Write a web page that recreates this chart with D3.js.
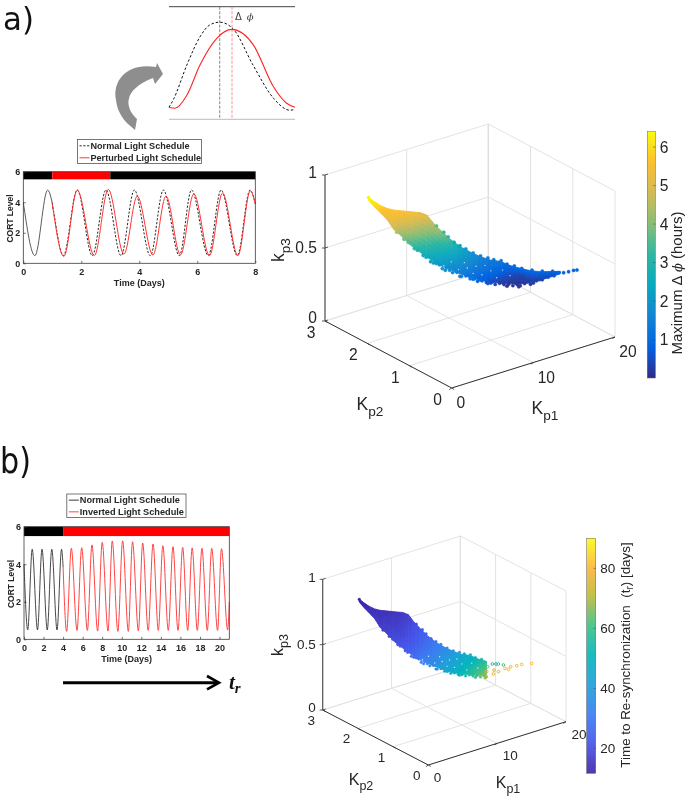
<!DOCTYPE html>
<html><head><meta charset="utf-8">
<style>html,body{margin:0;padding:0;background:#fff}svg{display:block;filter:blur(0.3px)}text{font-family:"Liberation Sans",Arial,sans-serif}</style>
<script src="https://cdn.jsdelivr.net/npm/d3@7/dist/d3.min.js"></script>
</head><body><svg id="c" width="685" height="798"></svg>
<script>
// ---- time series (extrema of each cycle) ----
const aNormalDays=[0,.4,.84,1.38,1.86,2.38,2.85,3.37,3.83,4.38,4.83,5.38,5.8,6.38,6.82,7.38,7.82,8];
const aNormalCort=[4,.5,4.8,.5,4.8,.5,4.8,.5,4.8,.5,4.8,.5,4.8,.5,4.8,.5,4.8,3.9];
const aPerturbedDays=[1,1.4,1.86,2.45,2.93,3.47,3.93,4.47,4.92,5.42,5.88,6.42,6.87,7.4,7.83,8];
const aPerturbedCort=[3.9,.45,4.8,.5,4.85,.6,4.4,.55,4.4,.55,4.55,.5,4.6,.5,4.75,3.9];
const bNormalDays=[0,.38,.84,1.38,1.84,2.38,2.84,3.38,3.84,4];
const bNormalCort=[4,.5,4.8,.5,4.8,.5,4.8,.5,4.8,3.85];
const bInvertedDays=[4,4.36,4.84,5.42,5.9,6.48,6.95,7.53,8,8.59,9.03,9.6,10.09,10.67,11.1,11.7,12.14,12.7,13.2,13.74,14.2,14.76,15.24,15.75,16.23,16.74,17.2,17.73,18.2,18.75,19.2,19.8,20.2,20.83,21];
const bInvertedCort=[3.85,.42,4.85,.47,4.88,.47,5.03,.44,5.17,.44,5.24,.42,5.25,.42,5.2,.45,5.13,.47,5.08,.47,4.99,.47,4.94,.47,4.9,.47,4.87,.47,4.85,.47,4.85,.47,4.83,.5,2];
const insetNormalHours=[0,.8,3.4,5.9,7.8,9.66,12.2,16,19.9,23,24], insetNormalCort=[.6,.96,2.7,4.1,4.7,4.83,4.5,2.7,1.05,.45,.5];
const insetPerturbedHours=[0,1.1,3.4,5.9,9.1,12,16.06,19.9,22.4,24], insetPerturbedCort=[.6,.55,1.2,2.7,4.03,4.47,3.7,1.62,.8,.6];
const aBarStart=[0,1,3], aBarEnd=[1,3,8], aBarColor=["#000","#f00","#000"];
const bBarStart=[0,4], bBarEnd=[4,21], bBarColor=["#000","#f00"];
const aDayTicks=[0,2,4,6,8], bDayTicks=[0,2,4,6,8,10,12,14,16,18,20], cortTicks=[0,2,4,6];
// ---- parameter cloud: hand-read cross-sections (kp1 station; kp3 top/middle/bottom) ----
const cloudKp1=[3.78,4.12,4.58,5.03,5.49,5.94,6.62,7.3,7.75,8.21,8.66,9.34,10.02,10.7,11.38,12.06,12.74,13.42,14.1,14.78,15.46,16.14,16.82];
const cloudKp3Top=[.827,.804,.777,.759,.751,.749,.746,.744,.73,.676,.633,.574,.528,.495,.468,.449,.444,.419,.405,.393,.39,.395,.401];
const cloudKp3Mid=[.818,.787,.752,.722,.685,.666,.632,.605,.582,.542,.508,.467,.431,.404,.384,.369,.367,.353,.348,.35,.36,.376,.392];
const cloudKp3Bot=[.808,.769,.727,.684,.618,.582,.518,.472,.442,.415,.39,.367,.342,.321,.307,.297,.297,.294,.298,.31,.332,.358,.384];
const aValueTop=[6.35,6.2,6,5.7,5.7,5.7,5.55,5.4,5.2,4.7,4.2,3.5,2.5,2,1.6,1.3,1.2,.95,1,1,.9,.9,.9];
const aValueMid=[6.3,6.1,5.8,5.5,5.3,5.05,4.6,4.1,3.8,3.3,2.9,2.4,2,1.6,1.25,1,.8,.5,.3,.5,.6,.7,.85];
const aValueBot=[6.2,6,5.6,5.2,4.8,4.2,3.4,2.8,2.5,2.2,2,1.7,1.4,1.1,.8,.5,.3,.15,.15,.2,.35,.5,.8];
const bValueTop=[12,13,14,14,14,14,15,16,17,20,22,26,30,34,38,44,48,52,58];
const bValueMid=[12,13,14,15,15,16,17,18,20,22,25,29,33,38,43,48,52,57,62];
const bValueBot=[12,14,15,16,17,18,20,22,24,27,30,34,38,43,47,52,56,62,68];
const dotKp1=[3.78,5.7,6.2,6.9,7.5,8,8.4,8.8,9.1,9.5,9.8,10.1,10.4,10.7,10.9,11.2,11.5,11.8,12.1,12.4,12.7,13,13.3,13.6,13.9,14.1,14.4,14.8,15.2,15.6,16,16.4,
 6.5,7.1,7.7,8.2,8.6,9,9.3,9.7,10,10.6,11,11.4,11.9,12.2,12.9,13.2,13.8,14,14.6,15,15.4,15.8,16.2,
 8.4,8.9,9.2,9.6,10,10.4,10.9,11.4,11.9,12.3,12.8,13.2,13.7,14.2,14.9,15.6,16.3,17.05,17.39,17.73,17.96];
const dotKp3=[.826,.6,.555,.495,.452,.412,.402,.37,.378,.347,.35,.325,.33,.312,.31,.298,.303,.294,.292,.284,.293,.287,.29,.283,.292,.286,.302,.3,.326,.336,.356,.368,
 .535,.485,.44,.405,.395,.36,.362,.36,.325,.332,.315,.31,.287,.3,.3,.277,.3,.278,.315,.31,.335,.355,.37,
 .66,.62,.59,.555,.535,.515,.49,.472,.462,.452,.448,.428,.418,.405,.397,.395,.398,.393,.402,.413,.417];
const dotValueA=[6.4,4.5,3.8,3.1,2.5,2.2,2.1,1.9,1.8,1.6,1.5,1.4,1.3,1.1,1.1,.9,.8,.7,.5,.4,.3,.2,.15,.15,.15,.15,.2,.2,.3,.4,.5,.7,
 3.5,2.9,2.5,2.2,2,1.8,1.7,1.6,1.4,1.2,1.1,.9,.6,.5,.3,.15,.2,.15,.25,.3,.4,.5,.6,
 3.6,3.3,3,2.5,2.2,2,1.8,1.5,1.3,1.2,1.2,1,1,1,1,.9,.9,.9,.9,.9,.9];
const dotValueB=[11,17,19,21,23,26,28,31,32,35,36,38,40,43,44,46,48,50,52,54,56,58,60,63,66,68,null,null,null,null,null,null,
 20,22,24,27,30,32,33,36,38,42,45,47,51,53,57,60,65,67,null,null,null,null,null,
 21,23,25,27,30,32,35,38,42,45,48,50,54,null,null,null,null,null,null,null,null];
const holeKp1=[8.9,9.4,9.9,10.3,10.5,10.9,11.1,11.5,11.7,12.1,12.5,12.9,13.4];
const holeKp3=[.39,.42,.37,.42,.385,.35,.4,.345,.41,.375,.33,.385,.35];
const openKp1=[14.57,14.87,15.06,15.47,14.19,14.11,14.65,15.06,14.71,15.6,15.87,16.06,16.55,16.95,17.76];
const openKp3=[.387,.388,.389,.384,.364,.326,.311,.331,.341,.359,.352,.374,.384,.396,.408];
const openValue=[58,56,60,62,64,72,78,76,74,80,79,76,78,79,80];
const ridgeKp1=[3.78,18], ridgeKp2=[2.7,.5];
// ---- axis ticks and colours ----
const kp1Ticks=[0,10,20], kp2Ticks=[0,1,2,3], kp3Ticks=[0,.5,1];
const aBarTicks=[1,2,3,4,5,6], bBarTicks=[20,40,60,80];
const colorStops=[0,.125,.25,.375,.5,.625,.75,.875,1];
const aColors=["#352a87","#0363e1","#1485d4","#09a9c0","#2eb7a4","#87bf77","#d1bb59","#fdbf30","#f9fb0e"];
const bColors=["#3e26a8","#4552e8","#3a7df2","#1f9fd8","#05b5bc","#3bc08a","#b8bb3a","#fdb53a","#f9fb15"];

const svg=d3.select("#c");
const defs=svg.append("defs");
defs.append("filter").attr("id","soft").attr("x","-5%").attr("y","-5%").attr("width","110%").attr("height","110%").append("feGaussianBlur").attr("stdDeviation",.5);
defs.append("filter").attr("id","shade").attr("x","-20%").attr("y","-20%").attr("width","140%").attr("height","140%").append("feGaussianBlur").attr("stdDeviation",.7);
const line=(xs,ys,x,y,cv)=>d3.line().x(d=>x(xs[d])).y(d=>y(ys[d])).curve(cv||d3.curveMonotoneX)(d3.range(xs.length));
const ink="#262626";

svg.append("text").attr("transform","translate(3,30) scale(.95,1)").attr("font-size",32.5).style("font-family","DejaVu Sans").attr("fill","#111").text("a)");
svg.append("text").attr("transform","translate(0,473) scale(.84,1)").attr("font-size",36).style("font-family","DejaVu Sans").attr("fill","#111").text("b)");

function timePlot(c){
  const x=d3.scaleLinear().domain([0,c.maxDay]).range([c.l,c.r]);
  const y=d3.scaleLinear().domain([0,6]).range([c.b,c.t]);
  const g=svg.append("g");
  c.barStart.forEach((s,i)=>g.append("rect").attr("x",x(s)).attr("width",x(c.barEnd[i])-x(s)).attr("y",y(6)).attr("height",y(5.5)-y(6)).attr("fill",c.barColor[i]));
  c.draw(g,x,y);
  g.append("rect").attr("x",c.l).attr("y",c.t).attr("width",c.r-c.l).attr("height",c.b-c.t).attr("fill","none").attr("stroke","#3a3a3a").attr("stroke-width",.8);
  const ax=g.append("g").attr("transform",`translate(0,${c.b})`).call(d3.axisBottom(x).tickValues(c.dayTicks).tickFormat(d3.format("d")).tickSize(-2.5).tickPadding(5));
  const ay=g.append("g").attr("transform",`translate(${c.l},0)`).call(d3.axisLeft(y).tickValues(cortTicks).tickFormat(d3.format("d")).tickSize(-2.5).tickPadding(3));
  [ax,ay].forEach(a=>{a.select(".domain").remove();a.selectAll("line").attr("stroke","#3a3a3a").attr("stroke-width",.7);a.selectAll("text").attr("fill",ink).attr("font-size",9).attr("font-weight","bold").style("font-family","Liberation Sans");});
  g.append("text").attr("x",(c.l+c.r)/2).attr("y",c.b+23).attr("text-anchor","middle").attr("font-size",9).attr("font-weight","bold").attr("fill",ink).text("Time (Days)");
  g.append("text").attr("transform",`translate(${c.l-10.5},${(c.t+c.b)/2+1}) rotate(-90)`).attr("text-anchor","middle").attr("font-size",8.5).attr("font-weight","bold").attr("fill",ink).text("CORT Level");
  const lg=c.legend;
  g.append("rect").attr("x",lg.x).attr("y",lg.y).attr("width",lg.w).attr("height",lg.h).attr("fill","#fff").attr("stroke","#555").attr("stroke-width",.8);
  lg.items.forEach((it,i)=>{
    const yy=lg.y+lg.h*(i+.5)/2+.3;
    g.append("line").attr("x1",lg.x+2).attr("x2",lg.x+12).attr("y1",yy).attr("y2",yy).attr("stroke",it.c).attr("stroke-width",.9).attr("stroke-dasharray",it.d||null);
    g.append("text").attr("x",lg.x+13).attr("y",yy+3.3).attr("font-size",lg.fs).attr("font-weight","bold").attr("fill",ink).text(it.t);
  });
}
defs.append("clipPath").attr("id","firstDay").append("rect").attr("x",23).attr("y",170).attr("width",30).attr("height",100);
defs.append("clipPath").attr("id","afterDay").append("rect").attr("x",52).attr("y",170).attr("width",205).attr("height",100);
timePlot({l:23.3,r:255.3,t:171.7,b:263.3,maxDay:8,dayTicks:aDayTicks,barStart:aBarStart,barEnd:aBarEnd,barColor:aBarColor,
 legend:{x:77.5,y:139.5,w:124,h:24,fs:9.1,items:[{c:"#111",d:"2.2 1.6",t:"Normal Light Schedule"},{c:"#f22",t:"Perturbed Light Schedule"}]},
 draw(g,x,y){
  const d=line(aNormalDays,aNormalCort,x,y);
  g.append("path").attr("d",d).attr("fill","none").attr("stroke","#333").attr("stroke-width",.8).attr("clip-path","url(#firstDay)");
  g.append("path").attr("d",d).attr("fill","none").attr("stroke","#111").attr("stroke-width",.9).attr("stroke-dasharray","2.2 1.6").attr("clip-path","url(#afterDay)");
  g.append("path").attr("d",line(aPerturbedDays,aPerturbedCort,x,y)).attr("fill","none").attr("stroke","#f33").attr("stroke-width",1);
 }});
timePlot({l:24,r:229.3,t:526.7,b:639.3,maxDay:21,dayTicks:bDayTicks,barStart:bBarStart,barEnd:bBarEnd,barColor:bBarColor,
 legend:{x:66.8,y:494,w:119.2,h:23.4,fs:9.2,items:[{c:"#222",t:"Normal Light Schedule"},{c:"#f33",t:"Inverted Light Schedule"}]},
 draw(g,x,y){
  g.append("path").attr("d",line(bNormalDays,bNormalCort,x,y)).attr("fill","none").attr("stroke","#333").attr("stroke-width",.9);
  g.append("path").attr("d",line(bInvertedDays,bInvertedCort,x,y)).attr("fill","none").attr("stroke","#f44").attr("stroke-width",1);
 }});

// inset of panel a
(function(){
  const x=d3.scaleLinear().domain([0,24]).range([169,295]);
  const y=d3.scaleLinear().domain([0,5.6]).range([119.3,6.7]);
  const g=svg.append("g");
  g.append("line").attr("x1",x(0)).attr("x2",x(24)).attr("y1",y(5.6)).attr("y2",y(5.6)).attr("stroke","#444").attr("stroke-width",1);
  g.append("line").attr("x1",x(0)).attr("x2",x(24)).attr("y1",y(0)).attr("y2",y(0)).attr("stroke","#bbb").attr("stroke-width",1);
  g.append("line").attr("x1",x(9.66)).attr("x2",x(9.66)).attr("y1",y(5.6)).attr("y2",y(0)).attr("stroke","#666").attr("stroke-width",.8).attr("stroke-dasharray","3 1.5");
  g.append("line").attr("x1",x(12)).attr("x2",x(12)).attr("y1",y(5.6)).attr("y2",y(0)).attr("stroke","#f77").attr("stroke-width",.8).attr("stroke-dasharray","3 1.5");
  g.append("path").attr("d",line(insetNormalHours,insetNormalCort,x,y)).attr("fill","none").attr("stroke","#111").attr("stroke-width",1).attr("stroke-dasharray","2.5 2");
  g.append("path").attr("d",line(insetPerturbedHours,insetPerturbedCort,x,y)).attr("fill","none").attr("stroke","#f22").attr("stroke-width",1.1);
  const t=g.append("text").attr("x",235).attr("y",20).attr("font-size",10).attr("fill","#444");
  t.append("tspan").style("font-family","DejaVu Sans").text("\u0394");
  t.append("tspan").attr("dx",5).attr("font-style","italic").style("font-family","DejaVu Serif").text("\u03d5");
  // curved grey arrow
  g.append("path").attr("d","M137,119 C125,108 122,90 153,78 L155,84 L163,74 L157,63 L156,67 C128,62 112,80 116,100 C117,110 122,118 128,124 L135,130 Z").attr("fill","#8e8e8e").attr("filter","url(#shade)");
})();

function box3d(c){
  const ridge=d3.scaleLinear().domain(ridgeKp1).range(ridgeKp2);
  const k1x=d3.scaleLinear().domain([0,20]).range([0,c.k1[0]]), k1y=d3.scaleLinear().domain([0,20]).range([0,c.k1[1]]);
  const k2x=d3.scaleLinear().domain([0,3]).range([0,c.k2[0]]), k2y=d3.scaleLinear().domain([0,3]).range([0,c.k2[1]]);
  const k3y=d3.scaleLinear().domain([0,1]).range([0,-c.h]);
  const P=(a,b,h)=>[c.o[0]+k1x(a)+k2x(b),c.o[1]+k1y(a)+k2y(b)+k3y(h)];
  const g=svg.append("g");
  const seg=(p,q,col,w)=>g.append("line").attr("x1",p[0]).attr("y1",p[1]).attr("x2",q[0]).attr("y2",q[1]).attr("stroke",col).attr("stroke-width",w);
  const grid="#e3e3e3";
  kp1Ticks.forEach(a=>{seg(P(a,0,0),P(a,3,0),grid,1);seg(P(a,3,0),P(a,3,1),a===20?"#c4c4c4":grid,1);});
  kp2Ticks.forEach(b=>{seg(P(0,b,0),P(20,b,0),grid,1);seg(P(20,b,0),P(20,b,1),grid,1);});
  kp3Ticks.forEach(h=>{seg(P(0,3,h),P(20,3,h),grid,1);seg(P(20,3,h),P(20,0,h),grid,1);});
  seg(P(0,0,0),P(20,0,0),"#333",1);seg(P(0,0,0),P(0,3,0),"#333",1);seg(P(0,3,0),P(0,3,1),"#555",1.2);
  kp1Ticks.forEach(a=>{const p=P(a,0,0);seg(p,[p[0]-2.5,p[1]+1.7],"#333",.8);});
  kp2Ticks.forEach(b=>{const p=P(0,b,0);seg(p,[p[0]+2.5,p[1]+1.5],"#333",.8);});
  kp3Ticks.forEach(h=>{const p=P(0,3,h);seg(p,[p[0]-3,p[1]],"#333",.8);seg(p,[p[0]+3,p[1]-1],"#333",.8);});
  const col=d3.scaleLinear().domain(colorStops.map(s=>c.dom[0]+s*(c.dom[1]-c.dom[0]))).range(c.colors).interpolate(d3.interpolateRgb);
  // solid body of the cloud: each read cross-section cell is shaded smoothly
  const body=g.append("g").attr("filter","url(#soft)");
  const rowsK=[cloudKp3Top,cloudKp3Mid,cloudKp3Bot], rowsV=c.values, N=4;
  const mix=(a,b,t)=>a+(b-a)*t;
  for(let r=0;r<2;r++) for(let i=0;i<rowsV[0].length-1;i++){
    const A=P(cloudKp1[i],ridge(cloudKp1[i]),rowsK[r][i]),B=P(cloudKp1[i+1],ridge(cloudKp1[i+1]),rowsK[r][i+1]);
    const C=P(cloudKp1[i+1],ridge(cloudKp1[i+1]),rowsK[r+1][i+1]),D=P(cloudKp1[i],ridge(cloudKp1[i]),rowsK[r+1][i]);
    const at=(u,v)=>[mix(mix(A[0],B[0],u),mix(D[0],C[0],u),v),mix(mix(A[1],B[1],u),mix(D[1],C[1],u),v)];
    const valAt=(u,v)=>mix(mix(rowsV[r][i],rowsV[r][i+1],u),mix(rowsV[r+1][i],rowsV[r+1][i+1],u),v);
    for(let a=0;a<N;a++) for(let e=0;e<N;e++){
      const u0=a/N,u1=(a+1)/N,v0=e/N,v1=(e+1)/N, f=col(valAt((u0+u1)/2,(v0+v1)/2));
      body.append("polygon").attr("points",[at(u0,v0),at(u1,v0),at(u1,v1),at(u0,v1)].map(p=>p.join(",")).join(" ")).attr("fill",f).attr("stroke",f).attr("stroke-width",.8);
    }
  }
  // loose points and the gaps between them
  holeKp1.forEach((k,i)=>{if(k<c.holeMax){const p=P(k,ridge(k),holeKp3[i]);g.append("circle").attr("cx",p[0]).attr("cy",p[1]).attr("r",.7).attr("fill","#fff").attr("opacity",.8);}});
  c.dots().forEach(d=>{const p=P(d.k,ridge(d.k),d.h);
    g.append("circle").attr("cx",p[0]).attr("cy",p[1]).attr("r",c.r).attr("fill",d.open?"none":col(d.v)).attr("stroke",col(d.v)).attr("stroke-width",d.open?1:.3);});
  // tick labels
  const lab=(p,t,fs,anchor)=>g.append("text").attr("x",p[0]).attr("y",p[1]).attr("font-size",fs).attr("fill",ink).attr("text-anchor",anchor||"middle").text(t);
  kp3Ticks.forEach(h=>{const p=P(0,3,h);lab([p[0]-c.off3,p[1]+c.fs*.35+(h===0?-3:(h===1?-2:0))],String(h),c.fs,"end");});
  kp2Ticks.forEach(b=>{const p=P(0,b,0);lab([p[0]+c.off2[0],p[1]+c.off2[1]],String(b),c.fs);});
  kp1Ticks.forEach(a=>{const p=P(a,0,0);lab([p[0]+(a===0?c.off1[0]*.7:c.off1[0]),p[1]+c.off1[1]],String(a),c.fs);});
  const sub=(x,y,main,s,rot)=>{const t=g.append("text").attr("font-size",c.lfs).attr("fill",ink).attr("text-anchor","middle").attr("transform",`translate(${x},${y})${rot?" rotate(-90)":""}`);t.append("tspan").text(main);t.append("tspan").attr("dy",c.lfs*.33).attr("font-size",c.lfs*.78).text(s);};
  sub(...c.lab2,"K","p2");sub(...c.lab1,"K","p1");sub(...c.lab3,"k","p3",true);
  // colour bar
  const b=c.bar, y=d3.scaleLinear().domain(c.dom).range([b.b,b.t]);
  d3.range(b.t,b.b,1).forEach(yy=>g.append("rect").attr("x",b.x).attr("width",b.w).attr("y",yy).attr("height",Math.min(1.4,b.b-yy)).attr("fill",col(y.invert(yy+.5))));
  g.append("rect").attr("x",b.x).attr("y",b.t).attr("width",b.w).attr("height",b.b-b.t).attr("fill","none").attr("stroke","#666").attr("stroke-width",.5);
  c.barTicks.forEach(t=>{g.append("line").attr("x1",b.x+b.w-2).attr("x2",b.x+b.w).attr("y1",y(t)).attr("y2",y(t)).attr("stroke","#444").attr("stroke-width",.6);
    lab([b.x+b.w+4.5,y(t)+c.fs*.36],String(t),c.fs,"start");});
  c.barLabel(g);
}
box3d({o:[451.7,388],k1:[163.3,-51],k2:[-126.7,-67],h:146,r:1.7,fs:15.6,lfs:17.5,off3:8,off2:[-14,17],off1:[13,20],lab2:[370,410],lab1:[545,414],lab3:[284,250],holeMax:99,
 dom:[0,6.4],colors:aColors,values:[aValueTop,aValueMid,aValueBot],
 dots:()=>dotKp1.map((k,i)=>({k,h:dotKp3[i],v:dotValueA[i]})),
 bar:{x:647.3,w:8,t:131.7,b:378},barTicks:aBarTicks,
 barLabel(g){const t=g.append("text").attr("transform","translate(682,283) rotate(-90)").attr("text-anchor","middle").attr("font-size",15).attr("fill",ink);
   t.append("tspan").text("Maximum \u0394 ");t.append("tspan").attr("font-style","italic").style("font-family","DejaVu Serif").attr("font-size",13).text("\u03d5");t.append("tspan").text(" (hours)");}});
box3d({o:[428.3,765],k1:[137.7,-43.3],k2:[-105.6,-55],h:130.7,r:1.35,fs:13.5,lfs:16,off3:7,off2:[-11.5,15],off1:[13,17],lab2:[361,785],lab1:[508,788],lab3:[283,645],holeMax:14,
 dom:[11.7,90],colors:bColors,values:[bValueTop,bValueMid,bValueBot],
 dots:()=>dotKp1.map((k,i)=>({k,h:dotKp3[i],v:dotValueB[i]})).filter(d=>d.v!==null).concat(openKp1.map((k,i)=>({k,h:openKp3[i],v:openValue[i],open:true}))),
 bar:{x:586.7,w:9,t:538.3,b:773.3},barTicks:bBarTicks,
 barLabel(g){const t=g.append("text").attr("transform","translate(630,655) rotate(-90)").attr("text-anchor","middle").attr("font-size",13.4).attr("fill",ink);
   t.append("tspan").text("Time to Re-synchronization\u00a0\u00a0(t");t.append("tspan").attr("dy",3).attr("font-size",10).text("r");t.append("tspan").attr("dy",-3).text(") [days]");}});

// re-synchronisation arrow
const ar=svg.append("g");
ar.append("line").attr("x1",63).attr("x2",218).attr("y1",682.7).attr("y2",682.7).attr("stroke","#000").attr("stroke-width",3);
ar.append("path").attr("d","M207,676 L219,682.7 L207,689.4").attr("fill","none").attr("stroke","#000").attr("stroke-width",2.6);
const tr=ar.append("text").attr("x",229).attr("y",689).attr("font-size",21).attr("font-weight","bold").attr("font-style","italic").attr("fill","#111").style("font-family","Liberation Serif");
tr.append("tspan").text("t");tr.append("tspan").attr("dy",4).attr("font-size",15).text("r");
</script></body></html>
